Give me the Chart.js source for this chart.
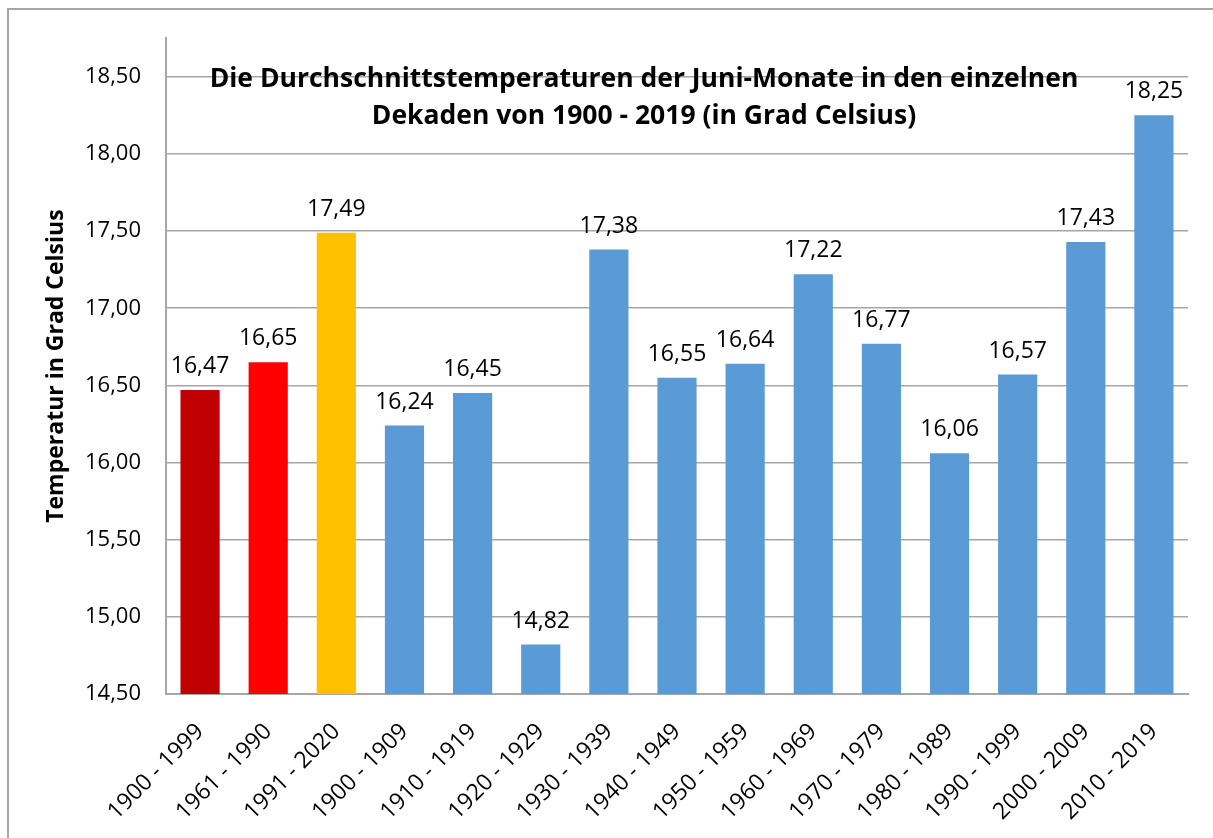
<!DOCTYPE html>
<html lang="de">
<head>
    <meta charset="UTF-8">
    <title>Juni-Temperaturen</title>
    <script src="https://cdn.jsdelivr.net/npm/chart.js@4"></script>
    <style>
        html, body { margin: 0; padding: 0; background: #fff; overflow: hidden; }
        .frame {
            position: absolute;
            left: 7px;
            top: 8px;
            width: 1300px;
            height: 900px;
            border: 2px solid #a6a6a6;
        }
        .wrap { position: absolute; left: 0; top: 0; width: 1213px; height: 838px; }
    </style>
</head>
<body>
    <div class="frame"></div>
    <div class="wrap"><canvas id="chart" width="1213" height="838"></canvas></div>

    <script>
        // data
        const decades = ['1900 - 1999', '1961 - 1990', '1991 - 2020', '1900 - 1909', '1910 - 1919',
            '1920 - 1929', '1930 - 1939', '1940 - 1949', '1950 - 1959', '1960 - 1969',
            '1970 - 1979', '1980 - 1989', '1990 - 1999', '2000 - 2009', '2010 - 2019'];
        const temps = [16.47, 16.65, 17.49, 16.24, 16.45, 14.82, 17.38, 16.55, 16.64, 17.22,
            16.77, 16.06, 16.57, 17.43, 18.25];
        const barColors = ['#c00000', '#ff0000', '#ffc000'].concat(Array(12).fill('#5b9bd5'));
        const titleLines = ['Die Durchschnittstemperaturen der Juni-Monate in den einzelnen',
            'Dekaden von 1900 - 2019 (in Grad Celsius)'];

        const fmt = v => v.toFixed(2).replace('.', ',');
        const font = '"Open Sans", Lato, sans-serif';

        // value labels above the bars
        const valueLabels = {
            id: 'valueLabels',
            afterDatasetsDraw(chart) {
                const ctx = chart.ctx;
                ctx.save();
                ctx.font = '23px ' + font;
                ctx.fillStyle = '#000';
                ctx.textAlign = 'center';
                ctx.textBaseline = 'alphabetic';
                chart.getDatasetMeta(0).data.forEach((bar, i) => {
                    ctx.fillText(fmt(temps[i]), bar.x, bar.y - 17);
                });
                ctx.restore();
            }
        };

        // title sits inside the plot area, like the original
        const insideTitle = {
            id: 'insideTitle',
            afterDatasetsDraw(chart) {
                const ctx = chart.ctx;
                ctx.save();
                ctx.font = 'bold 26.5px ' + font;
                ctx.fillStyle = '#000';
                ctx.textAlign = 'center';
                ctx.textBaseline = 'alphabetic';
                ctx.fillText(titleLines[0], 644, 87);
                ctx.fillText(titleLines[1], 644, 124);
                ctx.restore();
            }
        };

        new Chart(document.getElementById('chart'), {
            type: 'bar',
            data: {
                labels: decades,
                datasets: [{
                    data: temps,
                    backgroundColor: barColors,
                    borderWidth: 0,
                    barPercentage: 0.575,
                    categoryPercentage: 1
                }]
            },
            options: {
                responsive: false,
                animation: false,
                layout: { padding: { left: 0, top: 38, right: 25, bottom: 0 } },
                plugins: {
                    legend: { display: false },
                    tooltip: { enabled: false }
                },
                scales: {
                    x: {
                        grid: { display: false, drawTicks: false },
                        border: { color: '#a6a6a6', width: 2 },
                        ticks: {
                            color: '#000',
                            font: { family: font, size: 23 },
                            minRotation: 45,
                            maxRotation: 45,
                            padding: 24
                        },
                        afterFit(scale) { scale.height = 144; }
                    },
                    y: {
                        min: 14.5,
                        max: 18.75,
                        grid: { color: '#a6a6a6', lineWidth: 1.5, drawTicks: false },
                        border: { color: '#a6a6a6', width: 2 },
                        ticks: {
                            stepSize: 0.5,
                            includeBounds: false,
                            color: '#000',
                            font: { family: font, size: 22 },
                            padding: 25,
                            callback: v => fmt(v)
                        },
                        title: {
                            display: true,
                            text: 'Temperatur in Grad Celsius',
                            color: '#000',
                            font: { family: font, size: 23, weight: 'bold' },
                            padding: { top: 43 }
                        },
                        afterFit(scale) { scale.width = 166; }
                    }
                }
            },
            plugins: [valueLabels, insideTitle]
        });
    </script>
</body>
</html>
